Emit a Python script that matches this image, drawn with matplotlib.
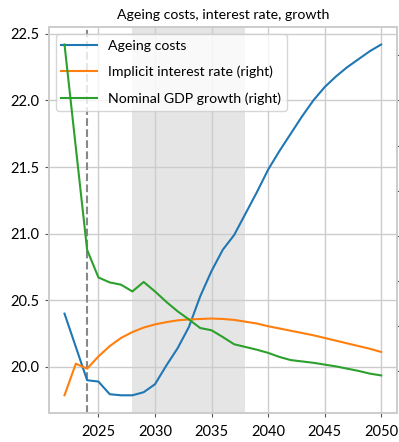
import matplotlib
matplotlib.use("Agg")
import matplotlib.pyplot as plt
from matplotlib.ticker import MultipleLocator

years = list(range(2022, 2051))

ageing_costs = [
    20.40, 20.15, 19.90, 19.89, 19.795, 19.787, 19.787, 19.81, 19.87, 20.01,
    20.14, 20.30, 20.53, 20.72, 20.88, 20.99, 21.15, 21.31, 21.48, 21.62,
    21.75, 21.88, 22.00, 22.10, 22.18, 22.25, 22.31, 22.37, 22.42,
]

interest_rate = [
    1.47, 2.17, 2.06, 2.33, 2.56, 2.74, 2.87, 2.97, 3.04, 3.09,
    3.13, 3.15, 3.16, 3.17, 3.16, 3.14, 3.10, 3.06, 3.00, 2.95,
    2.90, 2.85, 2.80, 2.74, 2.68, 2.62, 2.56, 2.50, 2.43,
]

gdp_growth = [
    9.24, 6.96, 4.69, 4.08, 3.97, 3.92, 3.77, 3.98, 3.77, 3.54,
    3.33, 3.15, 2.96, 2.91, 2.76, 2.60, 2.54, 2.48, 2.41, 2.32,
    2.25, 2.22, 2.19, 2.15, 2.11, 2.06, 2.01, 1.95, 1.91,
]

shade_start, shade_end = 2028, 2038
base_year = 2024

plt.rcParams["font.family"] = ["Lato", "DejaVu Sans"]
plt.rcParams["font.size"] = 10

fig = plt.figure(figsize=(3.99, 4.42), dpi=100)
ax = fig.add_axes([0.122, 0.066, 0.873, 0.873])
ax2 = ax.twinx()

grid_color = "#cccccc"
for a in (ax, ax2):
    for spine in a.spines.values():
        spine.set_color(grid_color)
        spine.set_linewidth(1.2)
    a.tick_params(color="#555555", length=3, labelsize=10.5)
ax.tick_params(axis="x", pad=5.5)
# right-hand labels fall outside the figure in the original, only the ticks show
ax2.tick_params(labelright=False)

ax.grid(True, color=grid_color, linewidth=1)
ax.set_axisbelow(True)
ax2.grid(False)

ax.axvspan(shade_start, shade_end, color="#e5e5e5", zorder=0, linewidth=0)
ax.axvline(base_year, color="#888888", linestyle="--", linewidth=1.5)

l1, = ax.plot(years, ageing_costs, color="C0", label="Ageing costs")
l2, = ax2.plot(years, interest_rate, color="C1", label="Implicit interest rate (right)")
l3, = ax2.plot(years, gdp_growth, color="C2", label="Nominal GDP growth (right)")

ax.set_xticks([2025, 2030, 2035, 2040, 2045, 2050])
ax.set_yticks([20.0, 20.5, 21.0, 21.5, 22.0, 22.5])
ax2.yaxis.set_major_locator(MultipleLocator(1))

ax.legend(handles=[l1, l2, l3], loc="upper left", fontsize=10.2, framealpha=0.8,
          edgecolor=grid_color, labelspacing=1.0, handlelength=2.5)
ax.set_title("Ageing costs, interest rate, growth", fontsize=10.2)

fig.savefig("out.png", dpi=100)
